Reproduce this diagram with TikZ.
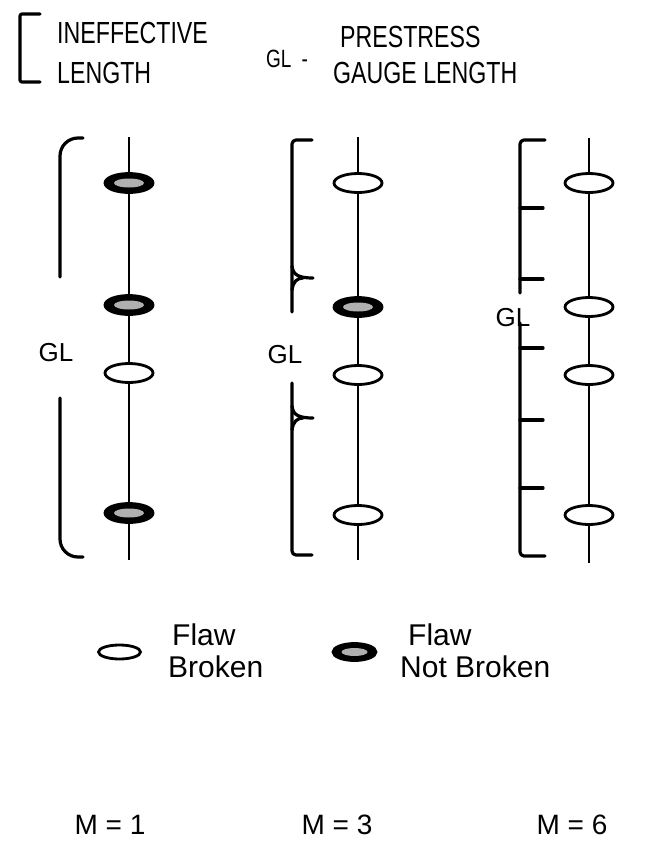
\documentclass[tikz,border=0pt]{standalone}
\usepackage{fontspec}
\setmainfont{Liberation Sans}
\newfontfamily\capsfont[FakeStretch=0.76]{Liberation Sans}
\usetikzlibrary{shapes.geometric}

\begin{document}
\begin{tikzpicture}[x=1pt,y=-1pt,
  fiber/.style={line width=2.4pt},
  bracket/.style={line width=3.2pt, line cap=round, line join=round},
  flaw/.style={ellipse, draw, line width=2.8pt, minimum width=48pt,
    minimum height=19pt, inner sep=0pt},
  broken/.style={flaw, fill=white},
  intact/.style={flaw, fill=black, path picture={
    \fill[gray!62] (path picture bounding box.center) ellipse (15pt and 4.5pt);}},
  head/.style={font=\capsfont\fontsize{30.5}{32}\selectfont, inner sep=0pt},
  headsmall/.style={font=\capsfont\fontsize{25}{27}\selectfont, inner sep=0pt},
  gl/.style={font=\fontsize{26}{28}\selectfont, inner sep=0pt},
  legend/.style={font=\fontsize{30}{32}\selectfont, inner sep=0pt},
  mlabel/.style={font=\fontsize{28}{30}\selectfont, inner sep=0pt}
]
\useasboundingbox (0,0) rectangle (650,841);

% ---- key at the top
\draw[bracket, rounded corners=2pt] (40,14) -- (20,14) -- (20,82) -- (40,82);
\node[head, anchor=base west] (t1) at (57,43) {INEFFECTIVE};
\node[head, anchor=base west] (t2) at (57,83) {LENGTH};
\node[headsmall, anchor=base west] (t3) at (266,67) {GL\hspace{0.4em}-};
\node[head, anchor=base west] (t4) at (340,47) {PRESTRESS};
\node[head, anchor=base west] (t5) at (333,83) {GAUGE LENGTH};

% ---- fiber M = 1
\coordinate (a0) at (129,137);
\node[intact] (a1) at (129,183) {};
\node[intact] (a2) at (129,305) {};
\node[broken] (a3) at (129,373) {};
\node[intact] (a4) at (129,513) {};
\coordinate (a5) at (129,560);
\draw[fiber] (a0) -- (a1) -- (a2) -- (a3) -- (a4) -- (a5);
\draw[bracket, rounded corners=18pt] (83,138) -- (60,138) -- (60,277);
\draw[bracket, rounded corners=18pt] (60,398) -- (60,557) -- (83,557);
\node[gl] (g1) at (56,353) {GL};

% ---- fiber M = 3
\coordinate (b0) at (358,137);
\node[broken] (b1) at (358,183) {};
\node[intact] (b2) at (358,307) {};
\node[broken] (b3) at (358,375) {};
\node[broken] (b4) at (358,515) {};
\coordinate (b5) at (358,560);
\draw[fiber] (b0) -- (b1) -- (b2) -- (b3) -- (b4) -- (b5);
\draw[bracket, rounded corners=4pt] (312,140) -- (292,140) -- (292,312);
\draw[bracket] (292,266) .. controls (293,274) and (297,278) .. (313,278);
\draw[bracket] (292,290) .. controls (293,282) and (297,278) .. (303,278);
\draw[bracket, rounded corners=4pt] (292,383) -- (292,555) -- (312,555);
\draw[bracket] (292,406) .. controls (293,414) and (297,418) .. (313,418);
\draw[bracket] (292,430) .. controls (293,422) and (297,418) .. (303,418);
\node[gl] (g2) at (285,355) {GL};

% ---- fiber M = 6
\coordinate (c0) at (589,138);
\node[broken] (c1) at (589,183) {};
\node[broken] (c2) at (589,307) {};
\node[broken] (c3) at (589,375) {};
\node[broken] (c4) at (589,515) {};
\coordinate (c5) at (589,563);
\draw[fiber] (c0) -- (c1) -- (c2) -- (c3) -- (c4) -- (c5);
\draw[bracket, rounded corners=4pt] (545,140) -- (520,140) -- (520,293);
\draw[bracket] (520,208) -- (543,208);
\draw[bracket] (520,279) -- (543,279);
\draw[bracket, rounded corners=4pt] (520,323) -- (520,556) -- (545,556);
\draw[bracket] (520,348) -- (543,348);
\draw[bracket] (520,420) -- (543,420);
\draw[bracket] (520,488) -- (543,488);
\node[gl] (g3) at (513,318) {GL};

% ---- legend
\node[broken, minimum width=42pt, minimum height=14pt] (lb) at (119.5,652) {};
\node[legend, anchor=base west] (lb1) at (172,645) {Flaw};
\node[legend, anchor=base west] (lb2) at (168,677) {Broken};
\node[intact, minimum width=43pt, minimum height=17pt,
  path picture={\fill[gray!62] (path picture bounding box.center) ellipse (13pt and 4pt);}]
  (li) at (354.5,652) {};
\node[legend, anchor=base west] (li1) at (408,645) {Flaw};
\node[legend, anchor=base west] (li2) at (400,677) {Not Broken};

% ---- number of breaks
\node[mlabel, anchor=base] (m1) at (110,834) {M = 1};
\node[mlabel, anchor=base] (m3) at (337,834) {M = 3};
\node[mlabel, anchor=base] (m6) at (572,834) {M = 6};
\end{tikzpicture}
\end{document}
